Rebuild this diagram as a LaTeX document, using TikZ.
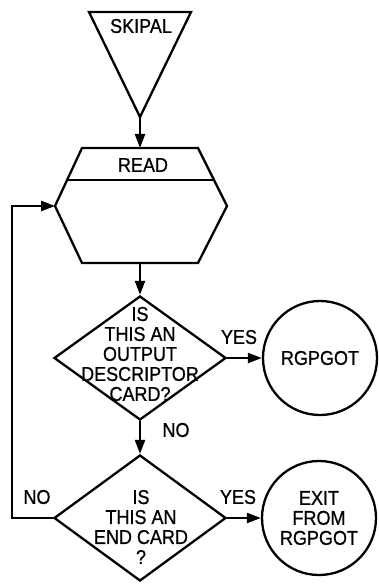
\documentclass[tikz,border=0pt]{standalone}
\usepackage{fontspec}
\setmainfont[FakeStretch=0.9, FakeBold=0.8]{Liberation Sans}
\usetikzlibrary{arrows.meta, positioning, calc, shapes.geometric}

\begin{document}
\begin{tikzpicture}[
        x=1pt, y=-1pt,
        line width=2.3pt,
        every node/.style={font=\fontsize{20}{20}\selectfont, align=center, inner sep=0pt},
        decision/.style={draw, diamond, minimum width=172pt, minimum height=124pt},
        terminal/.style={draw, circle, minimum size=114pt},
        arrow/.style={-{Triangle[length=14pt, width=10pt]}},
    ]
        \useasboundingbox (0,0) rectangle (378,585);

        % entry point
        \coordinate (tritl) at (89,12);
        \coordinate (tritr) at (191,12);
        \coordinate (triapex) at (140,117);
        \draw[line join=miter] (tritl) -- (tritr) -- (triapex) -- cycle;
        \node (skipal) at (141,26) {SKIPAL};

        % read box
        \coordinate (hxtl) at (82,148);
        \coordinate (hxtr) at (198,148);
        \coordinate (hxr) at (227,206);
        \coordinate (hxbr) at (198,263);
        \coordinate (hxbl) at (82,263);
        \coordinate (hxl) at (55,206);
        \coordinate (hxt) at (140,148);
        \coordinate (hxb) at (140,263);
        \draw (hxtl) -- (hxtr) -- (hxr) -- (hxbr) -- (hxbl) -- (hxl) -- cycle;
        \draw ($(hxtl)!0.55!(hxl)$) -- ($(hxtr)!0.55!(hxr)$);
        \node (read) at (143,165) {READ};

        % decisions
        \node[decision] (q1) at (140,358) {};
        \node (q1txt) at (140,354) {IS\\THIS AN\\OUTPUT\\DESCRIPTOR\\CARD?};
        \node[decision, minimum height=126pt] (q2) at (140,518) {};
        \node (q2txt) at (141,527) {IS\\THIS AN\\END CARD\\?};

        % exits
        \node[terminal] (rgpgot) at (320,358) {RGPGOT};
        \node[terminal] (exit) at (319,518) {EXIT\\FROM\\RGPGOT};

        \coordinate (loopx) at (12,206);

        \draw[arrow] (triapex) -- (hxt);
        \draw[arrow] (hxb) -- (q1.north);
        \draw[arrow] (q1.east) -- (rgpgot.west);
        \draw[arrow] (q1.south) -- (q2.north);
        \draw[arrow] (q2.east) -- (exit.west);
        \draw[arrow] (q2.west) -- (q2.west -| loopx) |- (hxl);

        \node (yes1) at (239,337) {YES};
        \node (no1) at (176,430) {NO};
        \node (no2) at (37,497) {NO};
        \node (yes2) at (238,497) {YES};
    \end{tikzpicture}
\end{document}
